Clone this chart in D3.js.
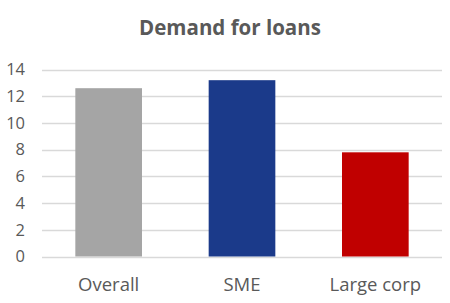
<!DOCTYPE html>
<html>
<head>
<meta charset="utf-8">
<script src="https://cdn.jsdelivr.net/npm/d3@7.9.0/dist/d3.min.js"></script>
<style>
  body { margin: 0; background: #fff; }
  svg text { font-family: "Open Sans", sans-serif; fill: #595959; }
</style>
</head>
<body>
<svg id="chart" width="450" height="303"></svg>
<script>
const categories = ['Overall', 'SME', 'Large corp'];
const values = [12.6, 13.2, 7.8];
const colors = ['#a5a5a5', '#1b3a8a', '#c00000'];
const yTicks = [0, 2, 4, 6, 8, 10, 12, 14];

const svg = d3.select('#chart');

// plot area
const plotLeft = 42, plotRight = 442, plotTop = 69.5, plotBottom = 256.5;

const x = d3.scaleBand()
  .domain(categories)
  .range([plotLeft, plotRight])
  .paddingInner(0.5)
  .paddingOuter(0.25);

const y = d3.scaleLinear()
  .domain([0, 14])
  .range([plotBottom, plotTop]);

// gridlines
svg.append('g')
  .selectAll('line')
  .data(yTicks)
  .join('line')
  .attr('x1', plotLeft)
  .attr('x2', plotRight)
  .attr('y1', d => Math.round(y(d)) + 0.5)
  .attr('y2', d => Math.round(y(d)) + 0.5)
  .attr('stroke', '#d9d9d9')
  .attr('stroke-width', 1.3);

// y axis labels
const yAxis = svg.append('g')
  .attr('transform', `translate(${plotLeft - 17},0)`)
  .call(d3.axisLeft(y).tickValues(yTicks).tickSize(0).tickPadding(0));
yAxis.select('.domain').remove();
yAxis.selectAll('text')
  .attr('font-size', 16.5)
  .attr('font-family', '"Open Sans", sans-serif')
  .attr('fill', '#595959');

// bars
svg.append('g')
  .selectAll('rect')
  .data(values)
  .join('rect')
  .attr('x', (d, i) => x(categories[i]))
  .attr('width', x.bandwidth())
  .attr('y', d => y(d))
  .attr('height', d => y(0) - y(d))
  .attr('fill', (d, i) => colors[i]);

// x axis labels
svg.append('g')
  .selectAll('text')
  .data(categories)
  .join('text')
  .attr('x', d => x(d) + x.bandwidth() / 2)
  .attr('y', 291)
  .attr('text-anchor', 'middle')
  .attr('font-size', 18.5)
  .text(d => d);

// title
svg.append('text')
  .attr('x', 230)
  .attr('y', 34.5)
  .attr('text-anchor', 'middle')
  .attr('font-size', 20.5)
  .attr('font-weight', 'bold')
  .text('Demand for loans');
</script>
</body>
</html>
